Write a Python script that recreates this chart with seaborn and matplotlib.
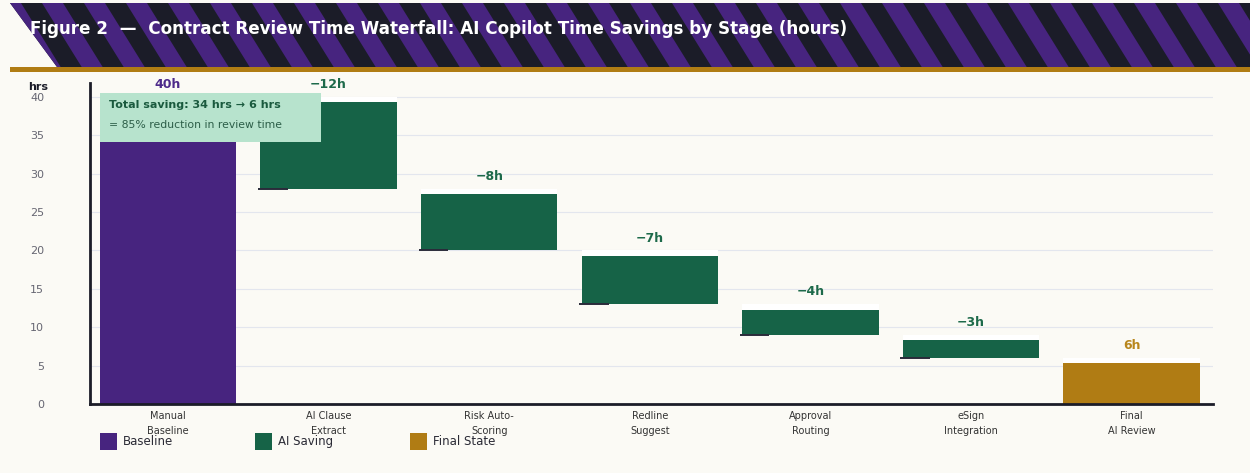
import numpy as np
import matplotlib
matplotlib.use("Agg")
import matplotlib.pyplot as plt
from matplotlib.patches import Polygon, Rectangle
import seaborn as sns

# Data
stages = ["Manual\nBaseline", "AI Clause\nExtract", "Risk Auto-\nScoring", "Redline\nSuggest",
          "Approval\nRouting", "eSign\nIntegration", "Final\nAI Review"]
baseline_hrs = 40
savings_hrs = [12, 8, 7, 4, 3]
final_hrs = 6
kinds = ["Baseline", "AI Saving", "AI Saving", "AI Saving", "AI Saving", "AI Saving", "Final State"]
value_labels = ["40h", "\u221212h", "\u22128h", "\u22127h", "\u22124h", "\u22123h", "6h"]
yticks = [0, 5, 10, 15, 20, 25, 30, 35, 40]

BG = "#fbfaf5"
PURPLE = "#47247f"
DARK = "#1b1c28"
GREEN = "#166347"
GOLD = "#b07c14"
MINT = "#b7e3cd"
colors = {"Baseline": PURPLE, "AI Saving": GREEN, "Final State": GOLD}
label_colors = {"Baseline": "#4d2a8a", "AI Saving": "#1d6a4a", "Final State": "#b8861c"}

# waterfall geometry from the data
tops, bottoms = [baseline_hrs], [0]
running = baseline_hrs
for s in savings_hrs:
    tops.append(running)
    running -= s
    bottoms.append(running)
tops.append(final_hrs)
bottoms.append(0)
cap = 0.7  # white strip drawn at the top of every bar
heights = [t - b - cap for t, b in zip(tops, bottoms)]

sns.set_theme(style="white")
plt.rcParams['font.family'] = ['DejaVu Sans']

W, H = 1250, 473
fig = plt.figure(figsize=(W / 100, H / 100), dpi=100, facecolor=BG)

# header band (pixel coords)
bg_ax = fig.add_axes([0, 0, 1, 1], zorder=0)
bg_ax.set_xlim(0, W)
bg_ax.set_ylim(H, 0)
bg_ax.axis("off")
hy0, hy1 = 3, 67
header = Polygon([(10, hy0), (W, hy0), (W, hy1), (57, hy1)], closed=True,
                 facecolor=DARK, edgecolor="none")
bg_ax.add_patch(header)
period, slant = 42, 0.62 * (hy1 - hy0)
for k in range(-3, W // period + 3):
    x0 = k * period
    stripe = Polygon([(x0, hy0), (x0 + period / 2, hy0),
                      (x0 + period / 2 + slant, hy1), (x0 + slant, hy1)],
                     closed=True, facecolor=PURPLE, edgecolor="none")
    bg_ax.add_patch(stripe)
    stripe.set_clip_path(header)
bg_ax.add_patch(Rectangle((10, hy1), W - 10, 5, facecolor=GOLD, edgecolor="none"))
bg_ax.text(30, 29, "Figure 2  \u2014  Contract Review Time Waterfall: AI Copilot Time Savings by Stage (hours)",
           color="white", fontsize=12.1, fontweight="bold", va="center", ha="left")

# legend (pixel coords)
for i, name in enumerate(["Baseline", "AI Saving", "Final State"]):
    lx = 100 + i * 155
    bg_ax.add_patch(Rectangle((lx, 433), 17, 17, facecolor=colors[name], edgecolor="none"))
    bg_ax.text(lx + 23, 441, name, fontsize=8.5, color="#2a2a35", va="center", ha="left")
bg_ax.text(28, 87, "hrs", fontsize=8, fontweight="bold", color="#1b1c28", va="center", ha="left")

# main axes
ax = fig.add_axes([90 / W, 1 - 404 / H, 1123 / W, 321 / H], zorder=1)
ax.set_facecolor(BG)
ax.patch.set_alpha(0)

bw = 0.85
sns.barplot(x=list(range(len(stages))), y=heights, bottom=bottoms, color=GREEN,
            width=bw, saturation=1, ax=ax, zorder=3)
for patch, kind in zip(ax.patches, kinds):
    patch.set_facecolor(colors[kind])
    patch.set_edgecolor("none")

xs = np.arange(len(stages))
ax.bar(xs, [cap] * len(xs), bottom=[t - cap for t in tops], width=bw,
       color="white", edgecolor="none", zorder=4)

# small connector stubs at the foot of each saving bar
for i in range(1, 1 + len(savings_hrs)):
    ax.plot([xs[i] - bw / 2 - 0.015, xs[i] - bw / 2 + 0.17], [bottoms[i], bottoms[i]],
            color="#2a2b3a", lw=1.4, zorder=5, solid_capstyle="butt")

for x, t, lab, kind in zip(xs, tops, value_labels, kinds):
    ax.text(x, t + 1.6, lab, ha="center", va="center", fontsize=9, fontweight="bold",
            color=label_colors[kind], zorder=6)

# annotation box
ax.add_patch(Rectangle((0.0089, 0.816), 0.197, 0.153, transform=ax.transAxes,
                       facecolor=MINT, edgecolor="none", zorder=7))
ax.text(0.017, 0.93, "Total saving: 34 hrs \u2192 6 hrs", transform=ax.transAxes,
        fontsize=8, fontweight="bold", color="#1a5a3e", va="center", zorder=8)
ax.text(0.017, 0.87, "= 85% reduction in review time", transform=ax.transAxes,
        fontsize=7.8, color="#2c5e48", va="center", zorder=8)

ax.set_xlim(-0.486, 6.507)
ax.set_ylim(0, 41.8)
ax.set_yticks(yticks)
ax.set_yticklabels([str(v) for v in yticks])
ax.set_xticks(xs)
ax.set_xticklabels(stages, fontsize=7, color="#333333", linespacing=1.65)
ax.tick_params(axis="x", length=0, pad=5)
ax.tick_params(axis="y", length=0, pad=33, labelsize=8, labelcolor="#666672")
ax.set_xlabel("")
ax.set_ylabel("")
for v in yticks[1:]:
    ax.axhline(v, color="#e3e6ee", lw=0.8, zorder=1)
for side in ["top", "right"]:
    ax.spines[side].set_visible(False)
for side in ["left", "bottom"]:
    ax.spines[side].set_color(DARK)
    ax.spines[side].set_linewidth(2)
    ax.spines[side].set_zorder(6)

fig.savefig("out.png", dpi=100, facecolor=BG)
